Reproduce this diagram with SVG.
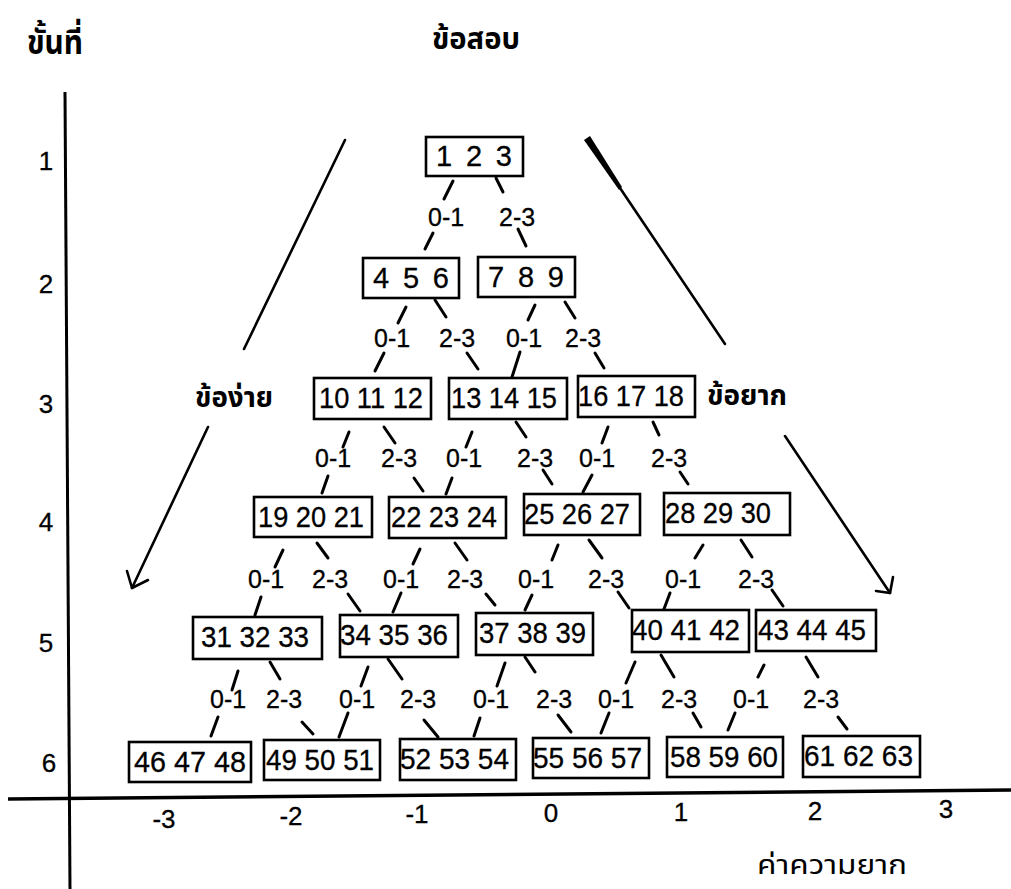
<svg xmlns="http://www.w3.org/2000/svg" width="1011" height="889" viewBox="0 0 1011 889">
  <style>
    .box { fill: #ffffff; stroke: #000000; stroke-width: 2.6; }
    .num { font-family: "Liberation Sans", Arial, sans-serif; font-size: 29px; fill: #000000; stroke: #000000; stroke-width: 0.3; }
    .lbl { font-family: "Liberation Sans", Arial, sans-serif; font-size: 25px; fill: #000000; stroke: #000000; stroke-width: 0.3; }
    .row { font-family: "Liberation Sans", Arial, sans-serif; font-size: 26px; fill: #000000; stroke: #000000; stroke-width: 0.3; }
    .th { font-family: "Noto Sans Thai", "Noto Sans Thai Looped", "Loma", "Garuda", "Tlwg Typo", "Noto Sans", "DejaVu Sans", sans-serif; fill: #000000; }
    .thb { font-weight: bold; }
    .tick { stroke: #000000; stroke-width: 3; stroke-linecap: round; fill: none; }
    .axis { stroke: #000000; fill: none; }
    .arrow { stroke: #000000; stroke-width: 2.6; fill: none; stroke-linecap: round; stroke-linejoin: round; }
  </style>

  <rect x="0" y="0" width="1011" height="889" fill="#ffffff"/>

  <!-- headings -->
  <text class="th thb" x="27" y="54" font-size="34" textLength="56" lengthAdjust="spacingAndGlyphs">ขั้นที่</text>
  <text class="th thb" x="432" y="49" font-size="30" textLength="88" lengthAdjust="spacingAndGlyphs">ข้อสอบ</text>

  <!-- axes -->
  <g id="axes">
    <line class="axis" x1="65" y1="92" x2="70" y2="889" stroke-width="3"/>
    <line class="axis" x1="8" y1="799" x2="1011" y2="790" stroke-width="3.5"/>
  </g>

  <!-- stage numbers -->
  <g id="stages">
    <text class="row" x="46" y="170" text-anchor="middle">1</text>
    <text class="row" x="46" y="293" text-anchor="middle">2</text>
    <text class="row" x="46" y="413" text-anchor="middle">3</text>
    <text class="row" x="46" y="531" text-anchor="middle">4</text>
    <text class="row" x="46" y="652" text-anchor="middle">5</text>
    <text class="row" x="49" y="772" text-anchor="middle">6</text>
  </g>

  <!-- difficulty scale -->
  <g id="scale">
    <text class="row" x="164" y="828" text-anchor="middle">-3</text>
    <text class="row" x="291" y="825" text-anchor="middle">-2</text>
    <text class="row" x="417" y="823" text-anchor="middle">-1</text>
    <text class="row" x="551" y="822" text-anchor="middle">0</text>
    <text class="row" x="681" y="821" text-anchor="middle">1</text>
    <text class="row" x="815" y="820" text-anchor="middle">2</text>
    <text class="row" x="946" y="818" text-anchor="middle">3</text>
    <text class="th" x="757" y="874" font-size="27" textLength="150" lengthAdjust="spacingAndGlyphs">ค่าความยาก</text>
  </g>

  <!-- direction arrows -->
  <g id="direction">
    <line class="arrow" x1="345" y1="140" x2="244" y2="349"/>
    <line class="arrow" x1="208" y1="427" x2="132" y2="588"/>
    <path class="arrow" d="M127,571 L132,588 L148,580"/>
    <polygon points="584,140 590,136 622,187 619,190" fill="#000000"/>
    <line class="arrow" x1="620" y1="188" x2="725" y2="344"/>
    <line class="arrow" x1="785" y1="436" x2="890" y2="593"/>
    <path class="arrow" d="M893,577 L890,593 L876,591"/>
    <text class="th thb" x="195" y="407" font-size="28" textLength="78" lengthAdjust="spacingAndGlyphs">ข้อง่าย</text>
    <text class="th thb" x="707" y="405" font-size="28" textLength="80" lengthAdjust="spacingAndGlyphs">ข้อยาก</text>
  </g>

  <!-- connectors with split labels -->
  <g id="connectors">
    <!-- stage 1 to 2 -->
    <line class="tick" x1="453" y1="181" x2="444" y2="199"/>
    <line class="tick" x1="433" y1="233" x2="425" y2="249"/>
    <line class="tick" x1="496" y1="178" x2="503" y2="192"/>
    <line class="tick" x1="518" y1="229" x2="526" y2="246"/>
    <text class="lbl" x="428" y="226">0-1</text>
    <text class="lbl" x="499" y="226">2-3</text>

    <!-- stage 2 to 3 -->
    <line class="tick" x1="406" y1="307" x2="398" y2="323"/>
    <line class="tick" x1="384" y1="353" x2="375" y2="371"/>
    <line class="tick" x1="435" y1="300" x2="446" y2="317"/>
    <line class="tick" x1="467" y1="353" x2="478" y2="369"/>
    <line class="tick" x1="535" y1="305" x2="528" y2="320"/>
    <line class="tick" x1="520" y1="352" x2="512" y2="377"/>
    <line class="tick" x1="565" y1="302" x2="575" y2="318"/>
    <line class="tick" x1="595" y1="353" x2="604" y2="368"/>
    <text class="lbl" x="374" y="347">0-1</text>
    <text class="lbl" x="439" y="347">2-3</text>
    <text class="lbl" x="506" y="347">0-1</text>
    <text class="lbl" x="565" y="347">2-3</text>

    <!-- stage 3 to 4 -->
    <line class="tick" x1="349" y1="432" x2="343" y2="447"/>
    <line class="tick" x1="384" y1="427" x2="395" y2="443"/>
    <line class="tick" x1="472" y1="432" x2="466" y2="447"/>
    <line class="tick" x1="516" y1="422" x2="526" y2="437"/>
    <line class="tick" x1="608" y1="427" x2="602" y2="443"/>
    <line class="tick" x1="653" y1="422" x2="659" y2="435"/>
    <line class="tick" x1="328" y1="476" x2="322" y2="493"/>
    <line class="tick" x1="414" y1="478" x2="423" y2="491"/>
    <line class="tick" x1="452" y1="478" x2="446" y2="494"/>
    <line class="tick" x1="543" y1="470" x2="552" y2="484"/>
    <line class="tick" x1="592" y1="475" x2="583" y2="492"/>
    <line class="tick" x1="680" y1="472" x2="688" y2="484"/>
    <text class="lbl" x="315" y="467">0-1</text>
    <text class="lbl" x="381" y="467">2-3</text>
    <text class="lbl" x="446" y="467">0-1</text>
    <text class="lbl" x="517" y="467">2-3</text>
    <text class="lbl" x="579" y="467">0-1</text>
    <text class="lbl" x="651" y="467">2-3</text>

    <!-- stage 4 to 5 -->
    <line class="tick" x1="283" y1="550" x2="275" y2="567"/>
    <line class="tick" x1="317" y1="543" x2="328" y2="558"/>
    <line class="tick" x1="420" y1="549" x2="413" y2="564"/>
    <line class="tick" x1="455" y1="543" x2="467" y2="560"/>
    <line class="tick" x1="558" y1="545" x2="552" y2="560"/>
    <line class="tick" x1="589" y1="540" x2="602" y2="558"/>
    <line class="tick" x1="703" y1="545" x2="695" y2="558"/>
    <line class="tick" x1="741" y1="540" x2="752" y2="557"/>
    <line class="tick" x1="261" y1="597" x2="255" y2="615"/>
    <line class="tick" x1="348" y1="594" x2="360" y2="611"/>
    <line class="tick" x1="401" y1="593" x2="393" y2="612"/>
    <line class="tick" x1="486" y1="594" x2="495" y2="605"/>
    <line class="tick" x1="532" y1="595" x2="525" y2="610"/>
    <line class="tick" x1="618" y1="592" x2="629" y2="608"/>
    <line class="tick" x1="670" y1="593" x2="664" y2="609"/>
    <line class="tick" x1="772" y1="590" x2="783" y2="606"/>
    <text class="lbl" x="248" y="588">0-1</text>
    <text class="lbl" x="312" y="588">2-3</text>
    <text class="lbl" x="383" y="588">0-1</text>
    <text class="lbl" x="447" y="588">2-3</text>
    <text class="lbl" x="518" y="588">0-1</text>
    <text class="lbl" x="588" y="588">2-3</text>
    <text class="lbl" x="665" y="588">0-1</text>
    <text class="lbl" x="738" y="588">2-3</text>

    <!-- stage 5 to 6 -->
    <line class="tick" x1="238" y1="671" x2="232" y2="690"/>
    <line class="tick" x1="270" y1="662" x2="280" y2="679"/>
    <line class="tick" x1="368" y1="667" x2="361" y2="686"/>
    <line class="tick" x1="388" y1="659" x2="402" y2="679"/>
    <line class="tick" x1="505" y1="663" x2="497" y2="686"/>
    <line class="tick" x1="525" y1="657" x2="535" y2="672"/>
    <line class="tick" x1="635" y1="662" x2="626" y2="683"/>
    <line class="tick" x1="661" y1="655" x2="674" y2="677"/>
    <line class="tick" x1="764" y1="665" x2="758" y2="677"/>
    <line class="tick" x1="806" y1="657" x2="818" y2="677"/>
    <line class="tick" x1="218" y1="717" x2="211" y2="736"/>
    <line class="tick" x1="302" y1="722" x2="313" y2="734"/>
    <line class="tick" x1="348" y1="713" x2="339" y2="737"/>
    <line class="tick" x1="424" y1="720" x2="438" y2="737"/>
    <line class="tick" x1="480" y1="718" x2="474" y2="736"/>
    <line class="tick" x1="558" y1="715" x2="571" y2="732"/>
    <line class="tick" x1="609" y1="713" x2="601" y2="733"/>
    <line class="tick" x1="693" y1="713" x2="701" y2="727"/>
    <line class="tick" x1="735" y1="713" x2="728" y2="730"/>
    <line class="tick" x1="838" y1="717" x2="847" y2="729"/>
    <text class="lbl" x="210" y="708">0-1</text>
    <text class="lbl" x="266" y="708">2-3</text>
    <text class="lbl" x="339" y="708">0-1</text>
    <text class="lbl" x="400" y="708">2-3</text>
    <text class="lbl" x="473" y="708">0-1</text>
    <text class="lbl" x="536" y="708">2-3</text>
    <text class="lbl" x="598" y="708">0-1</text>
    <text class="lbl" x="661" y="708">2-3</text>
    <text class="lbl" x="733" y="708">0-1</text>
    <text class="lbl" x="803" y="708">2-3</text>
  </g>

  <!-- stage 1 -->
  <g id="n1"><rect class="box" x="426" y="137" width="97" height="39"/><text class="num" x="436" y="166" textLength="76" lengthAdjust="spacing">1  2  3</text></g>
  <!-- stage 2 -->
  <g id="n2"><rect class="box" x="363" y="258" width="96" height="40"/><text class="num" x="373" y="288" textLength="76" lengthAdjust="spacing">4  5  6</text></g>
  <g id="n3"><rect class="box" x="478" y="257" width="97" height="40"/><text class="num" x="488" y="287" textLength="76" lengthAdjust="spacing">7  8  9</text></g>
  <!-- stage 3 -->
  <g id="n4"><rect class="box" x="314" y="378" width="117" height="41"/><text class="num" x="319" y="408" textLength="104" lengthAdjust="spacingAndGlyphs">10 11 12</text></g>
  <g id="n5"><rect class="box" x="449" y="378" width="118" height="41"/><text class="num" x="451" y="408" textLength="106" lengthAdjust="spacingAndGlyphs">13 14 15</text></g>
  <g id="n6"><rect class="box" x="578" y="376" width="117" height="41"/><text class="num" x="578" y="406" textLength="106" lengthAdjust="spacingAndGlyphs">16 17 18</text></g>
  <!-- stage 4 -->
  <g id="n7"><rect class="box" x="254" y="497" width="118" height="40"/><text class="num" x="258" y="527" textLength="106" lengthAdjust="spacingAndGlyphs">19 20 21</text></g>
  <g id="n8"><rect class="box" x="389" y="497" width="117" height="41"/><text class="num" x="391" y="527" textLength="106" lengthAdjust="spacingAndGlyphs">22 23 24</text></g>
  <g id="n9"><rect class="box" x="524" y="494" width="116" height="41"/><text class="num" x="524" y="524" textLength="106" lengthAdjust="spacingAndGlyphs">25 26 27</text></g>
  <g id="n10"><rect class="box" x="664" y="493" width="126" height="42"/><text class="num" x="665" y="523" textLength="106" lengthAdjust="spacingAndGlyphs">28 29 30</text></g>
  <!-- stage 5 -->
  <g id="n11"><rect class="box" x="193" y="617" width="129" height="42"/><text class="num" x="201" y="647" textLength="108" lengthAdjust="spacingAndGlyphs">31 32 33</text></g>
  <g id="n12"><rect class="box" x="340" y="615" width="118" height="42"/><text class="num" x="340" y="645" textLength="108" lengthAdjust="spacingAndGlyphs">34 35 36</text></g>
  <g id="n13"><rect class="box" x="476" y="613" width="117" height="42"/><text class="num" x="479" y="643" textLength="107" lengthAdjust="spacingAndGlyphs">37 38 39</text></g>
  <g id="n14"><rect class="box" x="632" y="610" width="117" height="42"/><text class="num" x="632" y="640" textLength="108" lengthAdjust="spacingAndGlyphs">40 41 42</text></g>
  <g id="n15"><rect class="box" x="756" y="610" width="120" height="41"/><text class="num" x="758" y="640" textLength="108" lengthAdjust="spacingAndGlyphs">43 44 45</text></g>
  <!-- stage 6 -->
  <g id="n16"><rect class="box" x="129" y="742" width="122" height="40"/><text class="num" x="134" y="772" textLength="112" lengthAdjust="spacingAndGlyphs">46 47 48</text></g>
  <g id="n17"><rect class="box" x="264" y="740" width="116" height="40"/><text class="num" x="266" y="770" textLength="108" lengthAdjust="spacingAndGlyphs">49 50 51</text></g>
  <g id="n18"><rect class="box" x="400" y="739" width="116" height="41"/><text class="num" x="400" y="769" textLength="109" lengthAdjust="spacingAndGlyphs">52 53 54</text></g>
  <g id="n19"><rect class="box" x="533" y="738" width="116" height="40"/><text class="num" x="533" y="768" textLength="109" lengthAdjust="spacingAndGlyphs">55 56 57</text></g>
  <g id="n20"><rect class="box" x="667" y="737" width="116" height="40"/><text class="num" x="670" y="767" textLength="108" lengthAdjust="spacingAndGlyphs">58 59 60</text></g>
  <g id="n21"><rect class="box" x="803" y="736" width="117" height="41"/><text class="num" x="804" y="766" textLength="109" lengthAdjust="spacingAndGlyphs">61 62 63</text></g>
</svg>
